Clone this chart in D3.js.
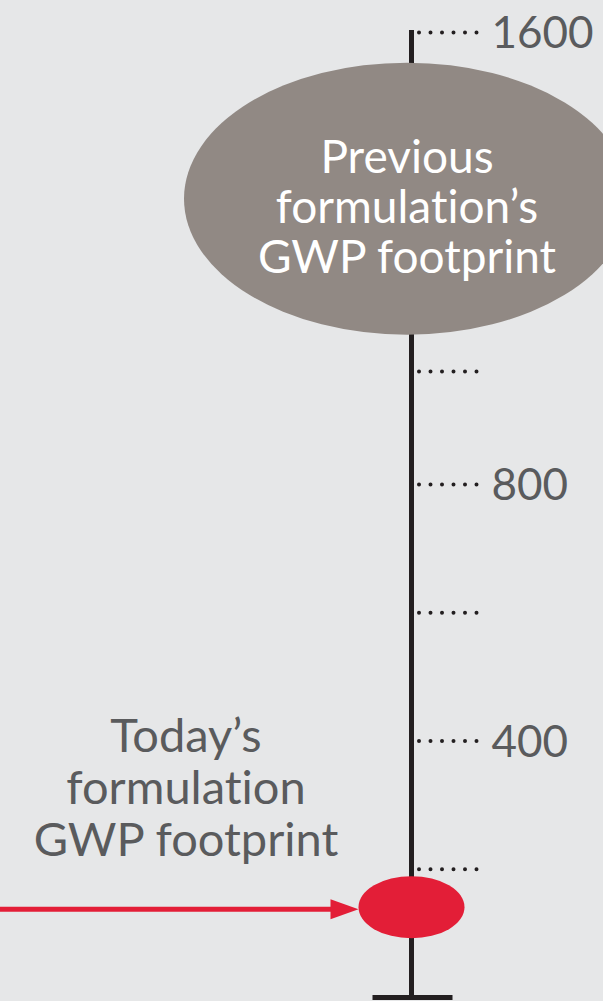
<!DOCTYPE html>
<html>
<head>
<meta charset="utf-8">
<script src="https://cdn.jsdelivr.net/npm/d3@7"></script>
<style>
  html, body { margin: 0; padding: 0; background: #e6e7e8; }
  text { font-variant-ligatures: none; font-feature-settings: "liga" 0, "clig" 0; }
</style>
</head>
<body>
<div id="chart"></div>
<script>
// values
var tickValues = [1600, 1000, 800, 600, 400, 200];
var tickLabels = ["1600", "", "800", "", "400", ""];
var footprintNames = ["Previous", "Today"];
var footprintValues = [1305, 140];
var previousLines = ["Previous", "formulation\u2019s", "GWP footprint"];
var todayLines = ["Today\u2019s", "formulation", "GWP footprint"];

var width = 603,
    height = 1001,
    axisX = 411.5;

var svg = d3.select("#chart")
            .append("svg")
              .attr("width", width)
              .attr("height", height);

svg.append("rect")
   .attr("width", width)
   .attr("height", height)
   .attr("fill", "#e6e7e8");

// broken scale: the part above 800 is squeezed
var y = d3.scaleLinear()
  .domain([0, 800, 1600])
  .range([997, 484, 32]);

// main vertical bar and the foot
svg.append("line")
   .attr("x1", axisX).attr("x2", axisX)
   .attr("y1", y(1600) - 2).attr("y2", y(0))
   .attr("stroke", "#231f20")
   .attr("stroke-width", 5);
svg.append("rect")
   .attr("x", axisX - 39)
   .attr("y", y(0) - 2)
   .attr("width", 80)
   .attr("height", 5)
   .attr("fill", "#231f20");

// dotted ticks with labels
var yAxis = d3.axisRight(y)
  .tickValues(tickValues)
  .tickFormat(function(d, i) { return tickLabels[i]; })
  .tickSize(0)
  .tickPadding(80);

var gAxis = svg.append("g")
  .attr("transform", "translate(" + axisX + ",0)")
  .call(yAxis);
gAxis.select(".domain").remove();
gAxis.selectAll(".tick line")
  .attr("x1", 7.5)
  .attr("x2", 66)
  .attr("stroke", "#231f20")
  .attr("stroke-width", 4)
  .attr("stroke-linecap", "round")
  .attr("stroke-dasharray", "0 11.5");
gAxis.selectAll(".tick text")
  .attr("fill", "#5a5b5d")
  .attr("dy", "0.36em")
  .style("font-family", "Lato, 'Open Sans', sans-serif")
  .style("font-size", "44px");

// previous formulation bubble
var prevY = y(footprintValues[0]);
svg.append("ellipse")
   .attr("cx", axisX - 4.5)
   .attr("cy", prevY)
   .attr("rx", 223)
   .attr("ry", 136)
   .attr("fill", "#918984");

svg.append("text")
   .attr("text-anchor", "middle")
   .attr("fill", "#ffffff")
   .style("font-family", "Lato, 'Open Sans', sans-serif")
   .style("font-size", "46px")
   .selectAll("tspan")
   .data(previousLines)
   .enter()
   .append("tspan")
     .attr("x", axisX - 4.5)
     .attr("y", function(d, i) { return prevY - 26 + i * 50; })
     .text(function(d) { return d; });

// today's formulation dot and arrow
var todayY = y(footprintValues[1]);
var redRx = 53;
svg.append("line")
   .attr("x1", 0).attr("x2", axisX - redRx - 25)
   .attr("y1", todayY + 2).attr("y2", todayY + 2)
   .attr("stroke", "#e31e37")
   .attr("stroke-width", 5);
svg.append("path")
   .attr("d", d3.line()([
      [axisX - redRx - 28, todayY - 8],
      [axisX - redRx, todayY + 2],
      [axisX - redRx - 28, todayY + 12]
   ]) + "Z")
   .attr("fill", "#e31e37");
svg.append("ellipse")
   .attr("cx", axisX)
   .attr("cy", todayY)
   .attr("rx", redRx)
   .attr("ry", 31)
   .attr("fill", "#e31e37");

svg.append("text")
   .attr("text-anchor", "middle")
   .attr("fill", "#5a5b5d")
   .style("font-family", "Lato, 'Open Sans', sans-serif")
   .style("font-size", "47px")
   .selectAll("tspan")
   .data(todayLines)
   .enter()
   .append("tspan")
     .attr("x", 186)
     .attr("y", function(d, i) { return todayY - 155 + i * 52; })
     .text(function(d) { return d; });
</script>
</body>
</html>
